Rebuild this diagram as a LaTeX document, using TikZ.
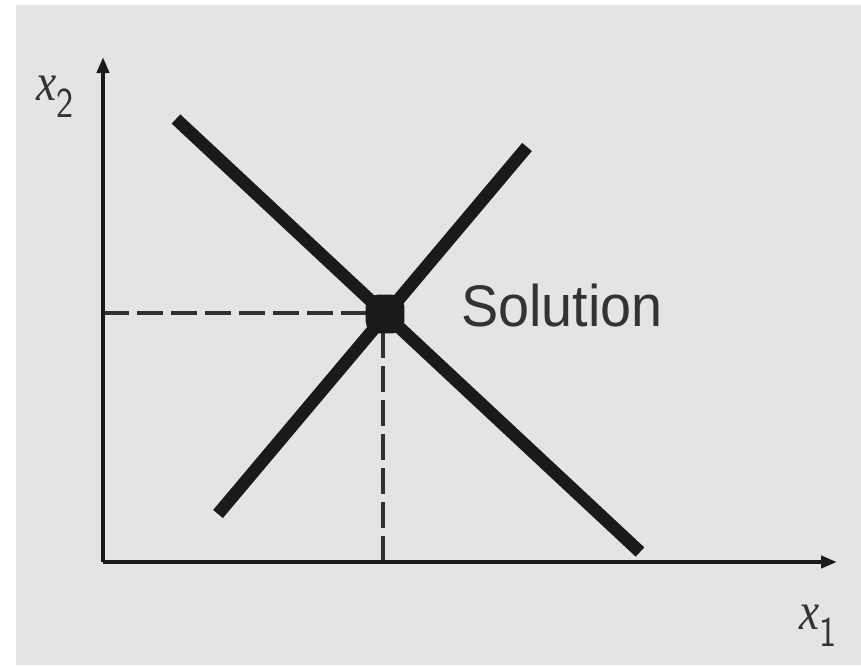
\documentclass[tikz,border=0pt]{standalone}
\usepackage{fontspec}
\setmainfont{Liberation Sans}
\newfontfamily\serifit{Liberation Serif}[ItalicFont=* Italic]
\usetikzlibrary{arrows.meta}
\definecolor{bggray}{HTML}{E4E4E4}
\definecolor{ink}{HTML}{1A1A1A}
\definecolor{txt}{HTML}{333333}
\tikzset{
  axisline/.style={line width=3pt, draw=ink, -{Triangle[length=12pt,width=9pt]}},
  bigline/.style={line width=9.5pt, draw=ink, line cap=butt},
  guide/.style={line width=2.6pt, draw=ink!90, dash pattern=on 19.5pt off 6pt},
  soldot/.style={fill=ink, rounded corners=9pt, minimum size=29pt, inner sep=0pt},
  axlabel/.style={text=txt, font=\serifit\fontsize{40}{40}\selectfont, inner sep=0pt},
}
\begin{document}
\begin{tikzpicture}[x=0.75pt,y=-0.75pt]
\useasboundingbox (0,0) rectangle (861,665);
\fill[white] (0,0) rectangle (861,665);
\fill[bggray] (16,5) rectangle (861,665);
\coordinate (O) at (103,562);
\coordinate (ytip) at (103,57);
\coordinate (xtip) at (837,562);
\coordinate (xfoot) at (383,562);
\coordinate (yfoot) at (103,313);
\coordinate (a1) at (176,119);
\coordinate (a2) at (640,552);
\coordinate (b1) at (218,514);
\coordinate (b2) at (527,147);
\draw[guide] (yfoot) -- (383,313);
\draw[guide] (xfoot) -- (383,313);
\draw[bigline] (a1) -- (a2);
\draw[bigline] (b1) -- (b2);
\node[soldot] (sol) at (385,314) {};
\draw[axisline] (O) -- (ytip);
\draw[axisline] (O) -- (xtip);
\node[axlabel, xscale=0.85] (lx2) at (55,97) {\textit{x}\raisebox{-0.32em}{\sffamily\fontsize{32}{32}\selectfont 2}};
\node[axlabel, xscale=0.85] (lx1) at (818,626) {\textit{x}\raisebox{-0.32em}{\sffamily\fontsize{32}{32}\selectfont 1}};
\node[text=txt, anchor=west, inner sep=0pt, xscale=0.95, font=\fontsize{44}{44}\selectfont] (lab) at (461,306) {Solution};
\end{tikzpicture}
\end{document}
